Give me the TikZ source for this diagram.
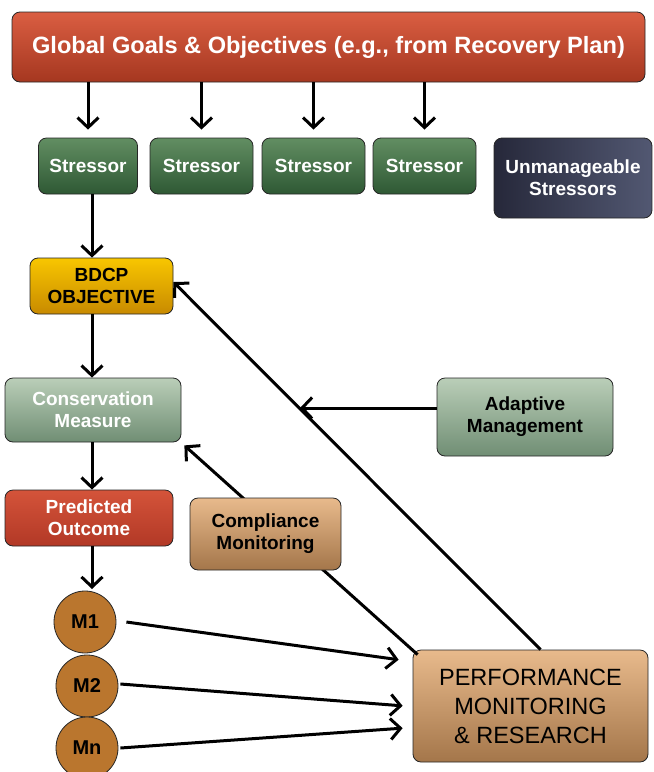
\documentclass[tikz,border=0pt]{standalone}
\usepackage{fontspec}
\setmainfont{Liberation Sans}
\usetikzlibrary{arrows.meta, positioning, calc, shadings}

\definecolor{goaltop}{RGB}{218, 94, 66}
\definecolor{goalbot}{RGB}{165, 55, 32}
\definecolor{stresstop}{RGB}{98, 142, 98}
\definecolor{stressbot}{RGB}{46, 88, 52}
\definecolor{unmleft}{RGB}{38, 40, 58}
\definecolor{unmright}{RGB}{82, 88, 114}
\definecolor{objtop}{RGB}{248, 198, 0}
\definecolor{objbot}{RGB}{200, 138, 0}
\definecolor{sagetop}{RGB}{186, 206, 184}
\definecolor{sagebot}{RGB}{112, 142, 116}
\definecolor{predtop}{RGB}{212, 84, 58}
\definecolor{predbot}{RGB}{178, 56, 38}
\definecolor{tantop}{RGB}{232, 186, 140}
\definecolor{tanbot}{RGB}{164, 118, 74}
\definecolor{mbrown}{RGB}{186, 118, 46}

\tikzset{
  box/.style={draw=black!85, line width=0.8pt, rounded corners=8pt, align=center,
    inner sep=2pt, font=\fontsize{19}{22}\selectfont\bfseries},
  stressbox/.style={box, top color=stresstop, bottom color=stressbot, text=white,
    minimum width=99pt, minimum height=56pt},
  sagebox/.style={box, top color=sagetop, bottom color=sagebot},
  tanbox/.style={box, top color=tantop, bottom color=tanbot, text=black},
  mnode/.style={circle, draw=black!85, line width=0.8pt, fill=mbrown, minimum size=62pt,
    inner sep=0pt, font=\fontsize{20}{22}\selectfont\bfseries},
  flow/.style={line width=3pt, -{Straight Barb[length=10pt, width=21pt]}},
}

\begin{document}
\begin{tikzpicture}[x=1pt, y=-1pt]
  \useasboundingbox (0,0) rectangle (654,772);

  % Goals and stressors
  \node[box, top color=goaltop, bottom color=goalbot, text=white, minimum width=633pt,
    minimum height=70pt, font=\fontsize{23.6}{26}\selectfont\bfseries] (goals) at (328.5,47)
    {Global Goals \& Objectives (e.g., from Recovery Plan)};

  \node[stressbox] (s1) at (88,166) {Stressor};
  \node[stressbox, minimum width=103pt] (s2) at (201.5,166) {Stressor};
  \node[stressbox, minimum width=103pt] (s3) at (313.5,166) {Stressor};
  \node[stressbox, minimum width=103pt] (s4) at (424.5,166) {Stressor};
  \node[box, left color=unmleft, right color=unmright, text=white, minimum width=158pt,
    minimum height=80pt] (unman) at (573,178) {Unmanageable\\Stressors};

  \foreach \s in {s1,s2,s3,s4}
    \draw[flow, shorten >=8pt] (goals.south -| \s) -- (\s.north);

  % Left-hand chain
  \node[box, top color=objtop, bottom color=objbot, text=black, minimum width=143pt,
    minimum height=56pt] (obj) at (101.5,286) {BDCP\\OBJECTIVE};
  \node[sagebox, text=white, minimum width=176pt, minimum height=64pt] (cons) at (93,410)
    {Conservation\\Measure};
  \node[box, top color=predtop, bottom color=predbot, text=white, minimum width=168pt,
    minimum height=56pt] (pred) at (89,518) {Predicted\\Outcome};

  \node[mnode] (m1) at (85,622) {M1};
  \node[mnode] (m2) at (87,686) {M2};
  \node[mnode] (mn) at (87,748) {Mn};

  \draw[flow] (s1.south -| 92,0) -- (obj.north -| 92,0);
  \draw[flow] (obj.south -| 92,0) -- (cons.north -| 92,0);
  \draw[flow] (cons.south -| 92,0) -- (pred.north -| 92,0);
  \draw[flow] (pred.south -| 92,0) -- (92,589);

  % Monitoring and feedback
  \node[tanbox, minimum width=235pt, minimum height=112pt,
    font=\fontsize{23.5}{29}\selectfont] (perf) at (530.5,706)
    {PERFORMANCE\\MONITORING\\\& RESEARCH};
  \node[sagebox, text=black, minimum width=176pt, minimum height=78pt] (adapt) at (525,417)
    {Adaptive\\Management};

  \draw[flow] ([shift={(5,5)}]perf.north west) -- ([shift={(3,3)}]cons.south east);
  \node[tanbox, minimum width=151pt, minimum height=72pt] (comp) at (265.5,534)
    {Compliance\\Monitoring};

  \draw[flow] ([xshift=10pt]perf.north) -- ([yshift=4pt]obj.east);
  \coordinate (amtip) at (300,408);
  \draw[flow] (adapt.west |- amtip) -- (amtip);

  \draw[flow, shorten >=2pt] ([xshift=10pt]m1.east) -- ([shift={(-12,-46)}]perf.west);
  \draw[flow, shorten >=2pt] ([shift={(2,-2)}]m2.east) -- ([xshift=-8pt]perf.west);
  \draw[flow, shorten >=2pt] ([xshift=2pt]mn.east) -- ([shift={(-8,22)}]perf.west);
\end{tikzpicture}
\end{document}
